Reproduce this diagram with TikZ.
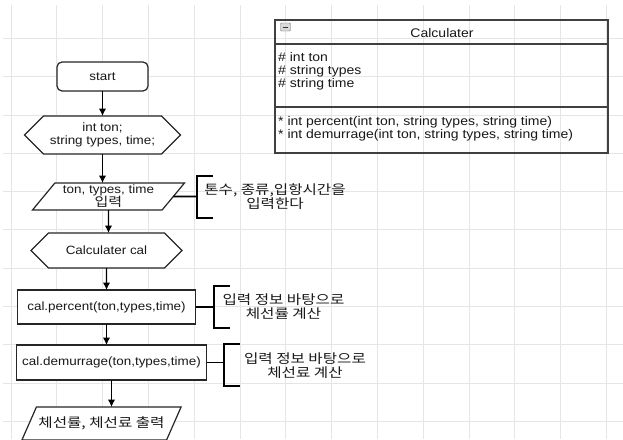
\documentclass[tikz,border=0pt]{standalone}
\usepackage{fontspec}
\setmainfont{Liberation Sans}[FakeStretch=1.12]
\newfontfamily\kr{Noto Sans CJK KR}[FakeStretch=1.2]
\usepackage{tikz}
\usetikzlibrary{arrows.meta,positioning,shapes.geometric,shapes.symbols,calc}

\begin{document}
\begin{tikzpicture}[x=1pt,y=-1pt,font=\fontsize{12}{13}\selectfont,text=black!90,node distance=22pt,
  gridline/.style={draw=black!10,line width=0.8pt},
  box/.style={draw=black!85,line width=1.2pt,fill=white,minimum height=34pt,align=center,inner sep=2pt,outer sep=0pt},
  term/.style={box,rounded corners=5pt,minimum width=91pt,minimum height=29pt},
  prep/.style={box,signal,signal to=west and east,signal pointer angle=90,minimum height=37pt},
  io/.style={box,trapezium,trapezium left angle=50,trapezium right angle=130,trapezium stretches body,minimum height=28pt},
  brace/.style={minimum width=16pt,minimum height=42pt,inner sep=0pt,outer sep=0pt},
  note/.style={align=center,font=\fontsize{13}{13.5}\kr},
  umlbox/.style={draw=black!75,line width=1.3pt,minimum width=333pt,inner sep=0pt,outer sep=0pt},
  arr/.style={-{Latex[length=2.6mm,width=2.6mm]},line width=1.3pt},
  link/.style={line width=1.6pt},
  bracket/.style={line width=2pt}]
\useasboundingbox (0,0) rectangle (623,439);
\fill[white] (0,0) rectangle (623,439);
\foreach \i in {0,...,13} \draw[gridline] ({11+45.8*\i},5) -- ({11+45.8*\i},439);
\foreach \j in {1,...,11} \draw[gridline] (3,{38.3*\j}) -- (623,{38.3*\j});

\node[term] (start) at (102.5,76.5) {start};
\node[prep,below=25pt of start,minimum width=156pt,minimum height=38pt] (decl) {int ton;\\string types, time;};
\node[io,below=29pt of decl,xshift=6pt,minimum width=152pt,minimum height=27pt] (input) {ton, types, time\\{\fontsize{12.5}{13}\kr 입력}};
\node[prep,below=23pt of input,xshift=-2pt,minimum width=151pt,minimum height=35pt] (calc) {Calculater cal};
\node[box,below=22pt of calc,minimum width=178pt] (percent) {cal.percent(ton,types,time)};
\node[box,below=21pt of percent,xshift=5pt,minimum width=190pt,minimum height=35pt] (demur) {cal.demurrage(ton,types,time)};
\node[io,below=27pt of demur,xshift=-10pt,minimum width=153pt,minimum height=33pt] (output) {\fontsize{13}{13}\kr 체선률, 체선료 출력};

\draw[arr] (start) -- (start |- decl.north);
\draw[arr] (decl) -- (decl |- input.north);
\draw[arr] (input) -- (input |- calc.north);
\draw[arr] (calc) -- (calc |- percent.north);
\draw[arr] (percent) -- (percent |- demur.north);
\draw[arr] (demur) -- (demur |- output.north);

\node[brace] (b1) at (205,196.5) {};
\node[brace] (b2) at (221.5,306.5) {};
\node[brace] (b3) at (231.5,364.5) {};
\draw[bracket] (b1.north east) -- (b1.north west) -- (b1.south west) -- (b1.south east);
\draw[bracket] (b2.north east) -- (b2.north west) -- (b2.south west) -- (b2.south east);
\draw[bracket] (b3.north east) -- (b3.north west) -- (b3.south west) -- (b3.south east);
\draw[link] (input) -- (input -| b1.west);
\draw[link] (percent) -- (percent -| b2.west);
\draw[link] (demur) -- (demur -| b3.west);
\node[note] (n1) at (275,196.5) {톤수, 종류,입항시간을\\입력한다};
\node[note] (n2) at (283.5,306.5) {입력 정보 바탕으로\\체선률 계산};
\node[note] (n3) at (305,365.5) {입력 정보 바탕으로\\체선료 계산};

\node[umlbox,minimum height=24pt] (head) at (441.5,32) {};
\node[umlbox,minimum height=63pt,below=0pt of head] (attr) {};
\node[umlbox,minimum height=46pt,below=0pt of attr] (meth) {};
\node[font=\fontsize{12.5}{13}\selectfont] (title) at (442,33) {Calculater};
\node[draw=black!55,fill=black!15,rounded corners=1pt,minimum width=10pt,minimum height=8pt,inner sep=0pt] (fold) at (285.5,27) {};
\draw[line width=1pt,black!80] ($(fold.west)+(2.5,0)$) -- ($(fold.east)+(-2.5,0)$);
\node[anchor=north west,align=left,inner sep=0pt,font=\fontsize{12.5}{13}\selectfont] (attrs) at ($(attr.north west)+(3,8)$) {\# int ton\\\# string types\\\# string time};
\node[anchor=north west,align=left,inner sep=0pt,font=\fontsize{12.5}{13}\selectfont] (meths) at ($(meth.north west)+(3,9)$) {* int percent(int ton, string types, string time)\\* int demurrage(int ton, string types, string time)};
\end{tikzpicture}
\end{document}
